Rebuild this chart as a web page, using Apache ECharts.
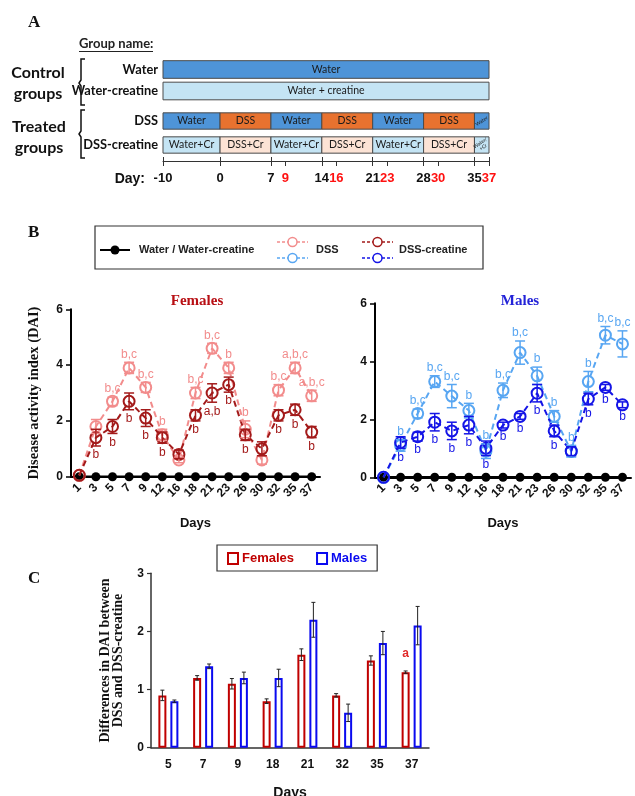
<!DOCTYPE html>
<html>
<head>
    <meta charset="utf-8">
    <title>DAI</title>
    <script src="https://cdn.jsdelivr.net/npm/echarts@6/dist/echarts.min.js"></script>
    <style>html, body { margin: 0; padding: 0; background: #fff; }</style>
</head>
<body>
    <div id="main" style="width: 635px; height: 796px;"></div>
    <script type="text/javascript">
        // ---- panel A: treatment schedule ----
        var controlGroups = ['Water', 'Water-creatine'];
        var treatedGroups = ['DSS', 'DSS-creatine'];
        var phaseDays = [-10, 0, 7, 14, 21, 28, 35, 37];
        var dssPhases = ['Water', 'DSS', 'Water', 'DSS', 'Water', 'DSS', 'Water'];
        var dssCrPhases = ['Water+Cr', 'DSS+Cr', 'Water+Cr', 'DSS+Cr', 'Water+Cr', 'DSS+Cr', 'Water/\n+Cr'];
        var dayTicks = [-10, 0, 7, 9, 14, 16, 21, 23, 28, 30, 35, 37];
        var majorTicks = [-10, 0, 7, 14, 21, 28, 35, 37];
        var sampleDays = [9, 16, 23, 30, 37];

        // ---- panel B: DAI over time ----
        var days = ['1', '3', '5', '7', '9', '12', '16', '18', '21', '23', '26', '30', '32', '35', '37'];
        var waterDAI = [0, 0, 0, 0, 0, 0, 0, 0, 0, 0, 0, 0, 0, 0, 0];
        var femDss = [0.05, 1.8, 2.7, 3.9, 3.2, 1.5, 0.6, 3.0, 4.6, 3.9, 1.7, 0.6, 3.1, 3.9, 2.9];
        var femDssErr = [0, 0.25, 0.15, 0.2, 0.18, 0.2, 0.1, 0.2, 0.18, 0.2, 0.3, 0.15, 0.2, 0.2, 0.2];
        var femDssLetters = ['', '', 'b,c', 'b,c', 'b,c', 'b', '', 'b,c', 'b,c', 'b', 'b', '', 'b,c', 'a,b,c', 'a,b,c'];
        var femCr = [0.05, 1.4, 1.8, 2.7, 2.1, 1.4, 0.8, 2.2, 3.0, 3.3, 1.5, 1.0, 2.2, 2.4, 1.6];
        var femCrErr = [0, 0.3, 0.25, 0.3, 0.3, 0.2, 0.15, 0.2, 0.33, 0.27, 0.2, 0.25, 0.2, 0.2, 0.2];
        var femCrLetters = ['', 'b', 'b', 'b', 'b', 'b', '', 'b', 'a,b', 'b', 'b', '', 'b', 'b', 'b'];
        var maleDss = [0, 1.1, 2.2, 3.3, 2.8, 2.3, 0.9, 3.0, 4.3, 3.5, 2.1, 0.9, 3.3, 4.9, 4.6];
        var maleDssErr = [0, 0.2, 0.15, 0.2, 0.4, 0.25, 0.25, 0.25, 0.4, 0.3, 0.2, 0.2, 0.35, 0.3, 0.45];
        var maleDssLetters = ['', 'b', 'b,c', 'b,c', 'b,c', 'b', 'b', 'b,c', 'b,c', 'b', 'b', 'b', 'b', 'b,c', 'b,c'];
        var maleCr = [0, 1.2, 1.4, 1.9, 1.6, 1.8, 1.0, 1.8, 2.1, 2.9, 1.6, 0.9, 2.7, 3.1, 2.5];
        var maleCrErr = [0, 0.2, 0.15, 0.3, 0.3, 0.3, 0.25, 0.1, 0.1, 0.3, 0.2, 0.15, 0.2, 0.1, 0.1];
        var maleCrLetters = ['', 'b', 'b', 'b', 'b', 'b', 'b', 'b', 'b', 'b', 'b', '', 'b', 'b', 'b'];

        // ---- panel C: DSS minus DSS-creatine ----
        var diffDays = ['5', '7', '9', '18', '21', '32', '35', '37'];
        var femDiff = [0.9, 1.2, 1.1, 0.8, 1.6, 0.9, 1.5, 1.3];
        var femDiffErr = [0.09, 0.04, 0.09, 0.04, 0.1, 0.03, 0.08, 0.02];
        var femDiffLetters = ['', '', '', '', '', '', '', 'a'];
        var maleDiff = [0.8, 1.4, 1.2, 1.2, 2.2, 0.6, 1.8, 2.1];
        var maleDiffErr = [0.02, 0.04, 0.1, 0.15, 0.3, 0.15, 0.2, 0.33];

        var SANS = 'Liberation Sans';
        var SERIF = 'Liberation Serif';
        var CAL = 'Lato';
        var cWater = '#4E94D8', cDss = '#E8722F', cWaterCr = '#C4E4F4', cDssCr = '#FCE3D5';
        var cFemDss = '#F28C8C', cFemCr = '#A31A1A', cMaleDss = '#58A6F2', cMaleCr = '#1414E6';
        var cFemBar = '#C00000', cMaleBar = '#0A0AF0';

        // the 10 pre-treatment days are drawn shorter than the rest
        var PRE = 0.785;
        function dayPos(d) { return d < 0 ? d * PRE : d; }
        function posDay(v) { return Math.round(v < 0 ? v / PRE : v); }

        function segFill(txt) {
            if (txt === 'DSS') return cDss;
            if (txt === 'DSS+Cr') return cDssCr;
            if (txt.indexOf('+') >= 0 || txt.indexOf('creatine') >= 0) return cWaterCr;
            return cWater;
        }

        var controlSegs = [
            { start: -10, end: 37, row: 0, text: 'Water' },
            { start: -10, end: 37, row: 1, text: 'Water + creatine' }
        ];
        var treatedSegs = [];
        dssPhases.forEach(function (p, i) {
            treatedSegs.push({ start: phaseDays[i], end: phaseDays[i + 1], row: 0, text: p });
        });
        dssCrPhases.forEach(function (p, i) {
            treatedSegs.push({ start: phaseDays[i], end: phaseDays[i + 1], row: 1, text: p });
        });

        function segmentRender(segs, ratio) {
            return function (params, api) {
                var s = segs[params.dataIndex];
                var a = api.coord([api.value(0), api.value(2)]);
                var b = api.coord([api.value(1), api.value(2)]);
                var h = api.size([0, 1])[1] * ratio;
                var narrow = (s.end - s.start) < 5;
                return {
                    type: 'rect',
                    shape: { x: a[0], y: a[1] - h / 2, width: b[0] - a[0], height: h },
                    style: { fill: segFill(s.text), stroke: '#4a4a4a', lineWidth: 1 },
                    textContent: {
                        style: {
                            text: s.text, fill: '#1a1a1a', align: 'center', verticalAlign: 'middle',
                            font: (narrow ? '5px ' : '10.5px ') + CAL, lineHeight: narrow ? 5 : 12
                        }
                    },
                    textConfig: { position: 'inside', rotation: narrow ? 0.6 : 0 }
                };
            };
        }

        function errorRender(color, letters, above, cap, width) {
            return function (params, api) {
                var i = api.value(0), v = api.value(1), e = api.value(2);
                var hi = api.coord([i, v + e]), lo = api.coord([i, v - e]);
                var ls = { stroke: color, lineWidth: width };
                var children = [];
                if (e > 0) {
                    children.push({ type: 'line', shape: { x1: hi[0], y1: hi[1], x2: lo[0], y2: lo[1] }, style: ls });
                    children.push({ type: 'line', shape: { x1: hi[0] - cap, y1: hi[1], x2: hi[0] + cap, y2: hi[1] }, style: ls });
                    children.push({ type: 'line', shape: { x1: lo[0] - cap, y1: lo[1], x2: lo[0] + cap, y2: lo[1] }, style: ls });
                }
                if (letters && letters[params.dataIndex]) {
                    children.push({
                        type: 'text', x: hi[0], y: above ? hi[1] - 2 : lo[1] + 3,
                        style: {
                            text: letters[params.dataIndex], fill: color, font: '12px ' + SANS,
                            align: 'center', verticalAlign: above ? 'bottom' : 'top'
                        }
                    });
                }
                return { type: 'group', children: children };
            };
        }

        function barErrorRender(shift) {
            return function (params, api) {
                var i = api.value(0), v = api.value(1), e = api.value(2);
                var hi = api.coord([i, v + e]), lo = api.coord([i, v - e]);
                var x = hi[0] + shift;
                var ls = { stroke: '#222', lineWidth: 1 };
                return {
                    type: 'group', children: [
                        { type: 'line', shape: { x1: x, y1: hi[1], x2: x, y2: lo[1] }, style: ls },
                        { type: 'line', shape: { x1: x - 2, y1: hi[1], x2: x + 2, y2: hi[1] }, style: ls },
                        { type: 'line', shape: { x1: x - 2, y1: lo[1], x2: x + 2, y2: lo[1] }, style: ls }
                    ]
                };
            };
        }

        function withIndex(vals, errs) {
            return vals.map(function (v, i) { return [i, v, errs[i]]; });
        }

        function dssLine(name, data, color, xi, yi, z) {
            return {
                name: name, type: 'line', xAxisIndex: xi, yAxisIndex: yi, data: data, z: z,
                symbol: 'circle', symbolSize: 11,
                itemStyle: { color: 'rgba(255,255,255,0)', borderColor: color, borderWidth: 2 },
                lineStyle: { color: color, width: 2, type: [6, 4] },
                emphasis: { disabled: true }
            };
        }

        function waterLine(xi, yi) {
            return {
                name: 'water' + xi, type: 'line', xAxisIndex: xi, yAxisIndex: yi, data: waterDAI, z: 2,
                symbol: 'circle', symbolSize: 9,
                itemStyle: { color: '#000' }, lineStyle: { color: '#000', width: 2.5 }
            };
        }

        function errSeries(xi, yi, vals, errs, color, letters, above) {
            return {
                type: 'custom', xAxisIndex: xi, yAxisIndex: yi, z: 10,
                data: withIndex(vals, errs), renderItem: errorRender(color, letters, above, 5, 1.5)
            };
        }

        var boldLabel = { color: '#111', fontFamily: SANS, fontWeight: 'bold', fontSize: 12 };

        function dayAxis(grid) {
            return {
                gridIndex: grid, type: 'category', data: days, boundaryGap: true,
                axisLine: { lineStyle: { color: '#000', width: 2 } },
                axisTick: { alignWithLabel: true, length: 4, lineStyle: { color: '#000', width: 1.5 } },
                axisLabel: Object.assign({ rotate: 45, interval: 0, margin: 9 }, boldLabel),
                splitLine: { show: false },
                name: 'Days', nameLocation: 'middle', nameGap: 40,
                nameTextStyle: { color: '#111', fontFamily: SANS, fontWeight: 'bold', fontSize: 13 }
            };
        }

        function daiAxis(grid, name) {
            return {
                gridIndex: grid, type: 'value', min: 0, max: 6, interval: 2,
                axisLine: { show: true, lineStyle: { color: '#000', width: 2 } },
                axisTick: { show: true, length: 5, lineStyle: { color: '#000', width: 1.5 } },
                axisLabel: Object.assign({ margin: 8 }, boldLabel),
                splitLine: { show: false },
                name: name, nameLocation: 'middle', nameGap: 29,
                nameTextStyle: { color: '#111', fontFamily: SERIF, fontWeight: 'bold', fontSize: 14.5 }
            };
        }

        var hiddenValue = {
            type: 'value', min: dayPos(-10), max: 37, show: false, splitLine: { show: false }
        };

        var groupAxisLabel = { color: '#111', fontFamily: CAL, fontWeight: 'bold', fontSize: 12.8, margin: 5 };

        var option = {
            animation: false,
            backgroundColor: '#fff',
            grid: [
                { left: 163, width: 326, top: 58.75, height: 43, outerBoundsMode: 'none' },
                { left: 163, width: 326, top: 109, height: 48, outerBoundsMode: 'none' },
                { left: 71, width: 249, top: 309.3, height: 167.4, outerBoundsMode: 'none' },
                { left: 375, width: 256, top: 303.3, height: 174, outerBoundsMode: 'none' },
                { left: 151, width: 278, top: 573.3, height: 174.4, outerBoundsMode: 'none' }
            ],
            xAxis: [
                Object.assign({ gridIndex: 0 }, hiddenValue),
                {
                    gridIndex: 1, type: 'value', min: dayPos(-10), max: 37, position: 'bottom', offset: 4,
                    axisLine: { show: true, lineStyle: { color: '#333', width: 1 } },
                    axisTick: { show: true, customValues: dayTicks.map(dayPos), length: 5, lineStyle: { color: '#333' } },
                    axisLabel: {
                        customValues: dayTicks.map(dayPos), margin: 11,
                        formatter: function (v) {
                            var d = posDay(v);
                            return sampleDays.indexOf(d) >= 0 ? '{r|' + d + '}' : '{k|' + d + '}';
                        },
                        rich: {
                            r: { color: '#FF1010', fontFamily: SANS, fontWeight: 'bold', fontSize: 13 },
                            k: { color: '#111', fontFamily: SANS, fontWeight: 'bold', fontSize: 13 }
                        }
                    },
                    splitLine: { show: false }
                },
                {
                    gridIndex: 1, type: 'value', min: dayPos(-10), max: 37, position: 'bottom', offset: 4,
                    axisLine: { show: false },
                    axisTick: { show: true, inside: true, customValues: majorTicks.map(dayPos), length: 4, lineStyle: { color: '#333' } },
                    axisLabel: { show: false },
                    splitLine: { show: false }
                },
                dayAxis(2),
                dayAxis(3),
                {
                    gridIndex: 4, type: 'category', data: diffDays,
                    axisLine: { lineStyle: { color: '#333', width: 1.5 } },
                    axisTick: { show: false },
                    axisLabel: Object.assign({ margin: 11 }, boldLabel),
                    name: 'Days', nameLocation: 'middle', nameGap: 38,
                    nameTextStyle: { color: '#111', fontFamily: SANS, fontWeight: 'bold', fontSize: 14 }
                }
            ],
            yAxis: [
                {
                    gridIndex: 0, type: 'category', data: controlGroups, inverse: true,
                    axisLine: { show: false }, axisTick: { show: false }, axisLabel: groupAxisLabel
                },
                {
                    gridIndex: 1, type: 'category', data: treatedGroups, inverse: true,
                    axisLine: { show: false }, axisTick: { show: false }, axisLabel: groupAxisLabel
                },
                daiAxis(2, 'Disease activity index (DAI)'),
                daiAxis(3, ''),
                {
                    gridIndex: 4, type: 'value', min: 0, max: 3, interval: 1,
                    axisLine: { show: true, lineStyle: { color: '#333', width: 1.5 } },
                    axisTick: { show: true, length: 4, lineStyle: { color: '#333', width: 1.2 } },
                    axisLabel: Object.assign({ margin: 7 }, boldLabel),
                    splitLine: { show: false },
                    name: 'Differences in DAI between\nDSS and DSS-creatine',
                    nameLocation: 'middle', nameGap: 26,
                    nameTextStyle: { color: '#111', fontFamily: SERIF, fontWeight: 'bold', fontSize: 14, lineHeight: 13 }
                }
            ],
            legend: {
                data: [
                    { name: 'Females', textStyle: { color: cFemBar }, itemStyle: { color: '#fff', borderColor: cFemBar, borderWidth: 2 } },
                    { name: 'Males', textStyle: { color: cMaleBar }, itemStyle: { color: '#fff', borderColor: cMaleBar, borderWidth: 2 } }
                ],
                left: 217, top: 545, icon: 'rect', itemWidth: 10, itemHeight: 11, itemGap: 22,
                padding: [7, 10, 6, 10], borderColor: '#333', borderWidth: 1.2, selectedMode: false,
                textStyle: { fontFamily: SANS, fontWeight: 'bold', fontSize: 13, padding: [0, 0, 0, -1] }
            },
            graphic: [
                { type: 'text', left: 28, top: 14, style: { text: 'A', font: 'bold 17px ' + SERIF, fill: '#111' } },
                { type: 'text', left: 28, top: 224, style: { text: 'B', font: 'bold 17px ' + SERIF, fill: '#111' } },
                { type: 'text', left: 28, top: 570, style: { text: 'C', font: 'bold 17px ' + SERIF, fill: '#111' } },
                { type: 'text', x: 79, y: 44, style: { text: 'Group name:', font: 'bold 13px ' + CAL, fill: '#222', verticalAlign: 'middle' } },
                { type: 'line', shape: { x1: 79, y1: 51.5, x2: 153, y2: 51.5 }, style: { stroke: '#222', lineWidth: 1 } },
                { type: 'text', x: 38, y: 83, style: { text: 'Control\ngroups', font: 'bold 16px ' + CAL, fill: '#111', align: 'center', verticalAlign: 'middle', lineHeight: 21 } },
                { type: 'text', x: 39, y: 137, style: { text: 'Treated\ngroups', font: 'bold 16px ' + CAL, fill: '#111', align: 'center', verticalAlign: 'middle', lineHeight: 21 } },
                { type: 'polyline', shape: { points: [[85, 59], [81, 59], [81, 80], [79, 83], [81, 86], [81, 105], [85, 105]] }, style: { stroke: '#111', lineWidth: 1.5, fill: null } },
                { type: 'polyline', shape: { points: [[85, 110], [81, 110], [81, 131], [79, 134], [81, 137], [81, 158], [85, 158]] }, style: { stroke: '#111', lineWidth: 1.5, fill: null } },
                { type: 'text', x: 145, y: 179, style: { text: 'Day:', font: 'bold 14px ' + SANS, fill: '#111', align: 'right', verticalAlign: 'middle' } },
                // panel B legend
                { type: 'rect', shape: { x: 95, y: 226, width: 388, height: 43 }, style: { fill: null, stroke: '#333', lineWidth: 1.2 } },
                { type: 'line', shape: { x1: 100, y1: 250, x2: 130, y2: 250 }, style: { stroke: '#000', lineWidth: 2 } },
                { type: 'circle', shape: { cx: 115, cy: 250, r: 4.5 }, style: { fill: '#000' } },
                { type: 'text', x: 139, y: 250, style: { text: 'Water / Water-creatine', font: 'bold 11px ' + SANS, fill: '#222', verticalAlign: 'middle' } },
                { type: 'line', shape: { x1: 277, y1: 242, x2: 308, y2: 242 }, style: { stroke: cFemDss, lineWidth: 1.5, lineDash: [3, 2] } },
                { type: 'circle', shape: { cx: 292.5, cy: 242, r: 4.5 }, style: { fill: '#fff', stroke: cFemDss, lineWidth: 1.5 } },
                { type: 'line', shape: { x1: 277, y1: 258, x2: 308, y2: 258 }, style: { stroke: cMaleDss, lineWidth: 1.5, lineDash: [3, 2] } },
                { type: 'circle', shape: { cx: 292.5, cy: 258, r: 4.5 }, style: { fill: '#fff', stroke: cMaleDss, lineWidth: 1.5 } },
                { type: 'text', x: 316, y: 250, style: { text: 'DSS', font: 'bold 11px ' + SANS, fill: '#222', verticalAlign: 'middle' } },
                { type: 'line', shape: { x1: 362, y1: 242, x2: 393, y2: 242 }, style: { stroke: cFemCr, lineWidth: 1.5, lineDash: [3, 2] } },
                { type: 'circle', shape: { cx: 377.5, cy: 242, r: 4.5 }, style: { fill: '#fff', stroke: cFemCr, lineWidth: 1.5 } },
                { type: 'line', shape: { x1: 362, y1: 258, x2: 393, y2: 258 }, style: { stroke: cMaleCr, lineWidth: 1.5, lineDash: [3, 2] } },
                { type: 'circle', shape: { cx: 377.5, cy: 258, r: 4.5 }, style: { fill: '#fff', stroke: cMaleCr, lineWidth: 1.5 } },
                { type: 'text', x: 399, y: 250, style: { text: 'DSS-creatine', font: 'bold 11px ' + SANS, fill: '#222', verticalAlign: 'middle' } },
                // panel B titles
                { type: 'text', x: 197, y: 301, style: { text: 'Females', font: 'bold 15px ' + SERIF, fill: '#B80F14', align: 'center', verticalAlign: 'middle' } },
                { type: 'text', x: 520, y: 301, style: { text: 'Males', font: 'bold 15px ' + SERIF, fill: '#2323D8', align: 'center', verticalAlign: 'middle' } }
            ],
            series: [
                {
                    type: 'custom', xAxisIndex: 0, yAxisIndex: 0, encode: { x: [0, 1], y: 2 },
                    data: controlSegs.map(function (s) { return [dayPos(s.start), dayPos(s.end), s.row]; }),
                    renderItem: segmentRender(controlSegs, 0.82)
                },
                {
                    type: 'custom', xAxisIndex: 1, yAxisIndex: 1, encode: { x: [0, 1], y: 2 },
                    data: treatedSegs.map(function (s) { return [dayPos(s.start), dayPos(s.end), s.row]; }),
                    renderItem: segmentRender(treatedSegs, 0.68)
                },
                // females
                waterLine(3, 2),
                dssLine('F DSS', femDss, cFemDss, 3, 2, 3),
                dssLine('F DSS-creatine', femCr, cFemCr, 3, 2, 4),
                errSeries(3, 2, femDss, femDssErr, cFemDss, femDssLetters, true),
                errSeries(3, 2, femCr, femCrErr, cFemCr, femCrLetters, false),
                // males
                waterLine(4, 3),
                dssLine('M DSS', maleDss, cMaleDss, 4, 3, 3),
                dssLine('M DSS-creatine', maleCr, cMaleCr, 4, 3, 4),
                errSeries(4, 3, maleDss, maleDssErr, cMaleDss, maleDssLetters, true),
                errSeries(4, 3, maleCr, maleCrErr, cMaleCr, maleCrLetters, false),
                // differences
                {
                    name: 'Females', type: 'bar', xAxisIndex: 5, yAxisIndex: 4, data: femDiff,
                    barWidth: 8, barGap: '50%',
                    itemStyle: { color: '#fff', borderColor: cFemBar, borderWidth: 2 },
                    label: {
                        show: true, position: 'top', distance: 12, color: '#E02828',
                        fontFamily: SANS, fontWeight: 'bold', fontSize: 12,
                        formatter: function (p) { return femDiffLetters[p.dataIndex]; }
                    }
                },
                {
                    name: 'Males', type: 'bar', xAxisIndex: 5, yAxisIndex: 4, data: maleDiff,
                    barWidth: 8, barGap: '50%',
                    itemStyle: { color: '#fff', borderColor: cMaleBar, borderWidth: 2 }
                },
                {
                    type: 'custom', xAxisIndex: 5, yAxisIndex: 4, z: 10,
                    data: withIndex(femDiff, femDiffErr), renderItem: barErrorRender(-6)
                },
                {
                    type: 'custom', xAxisIndex: 5, yAxisIndex: 4, z: 10,
                    data: withIndex(maleDiff, maleDiffErr), renderItem: barErrorRender(6)
                }
            ]
        };

        var myChart = echarts.init(document.getElementById('main'), null, { renderer: 'canvas' });
        myChart.setOption(option);
    </script>
</body>
</html>
